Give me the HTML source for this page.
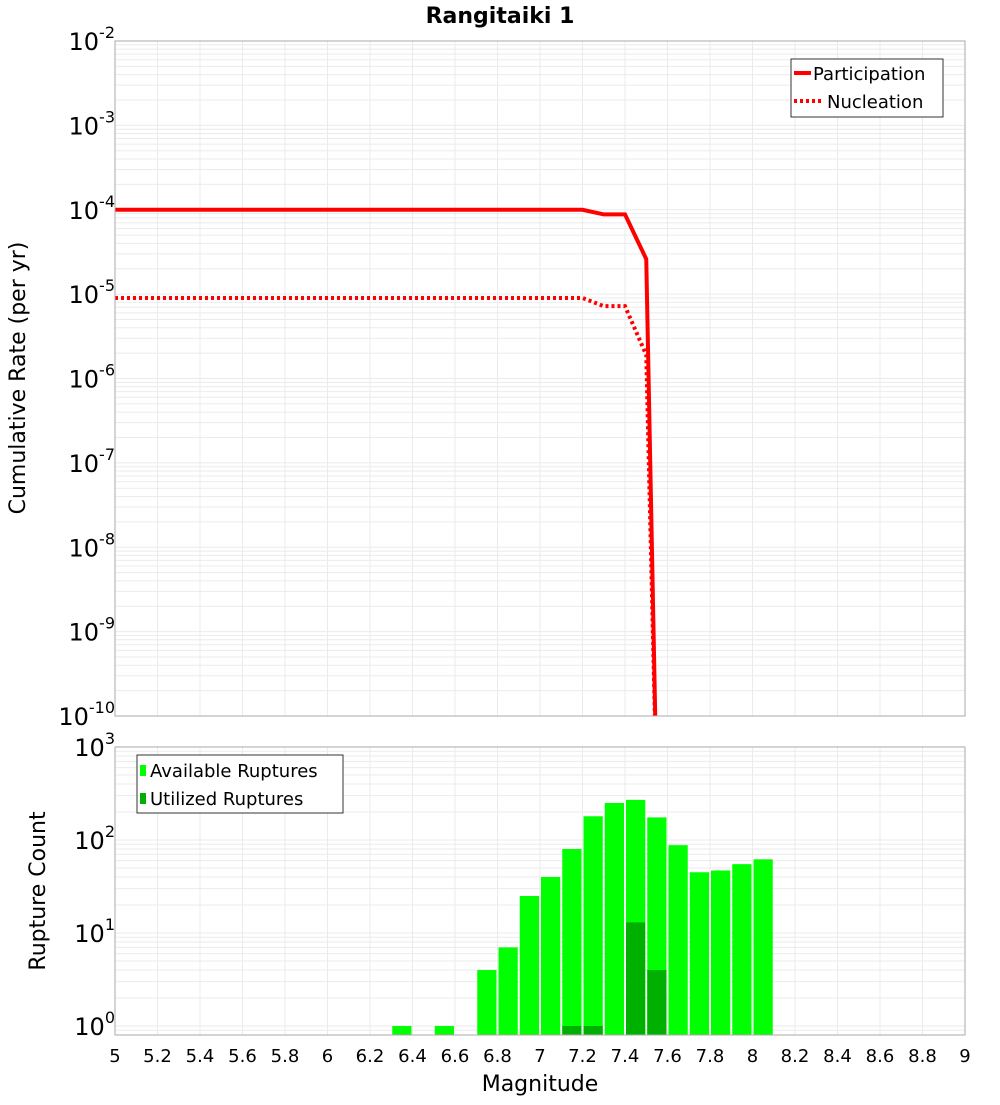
<!DOCTYPE html>
<html><head><meta charset="utf-8"><style>
body{margin:0;background:#fff;font-family:"Liberation Sans","DejaVu Sans",sans-serif}
svg text{font-family:"DejaVu Sans","Liberation Sans",sans-serif}
</style></head><body>
<svg id="c" width="1000" height="1100" xmlns="http://www.w3.org/2000/svg"></svg>
<script>
const partMag=[5,7.2,7.3,7.4,7.5,7.55];
const partRate=[1e-4,1e-4,8.8e-5,8.8e-5,2.6e-5,1e-11];
const nuclMag=[5,7.2,7.3,7.4,7.5,7.55];
const nuclRate=[9e-6,9e-6,7.2e-6,7.2e-6,1.9e-6,1e-11];
const binMag=[6.3,6.5,6.7,6.8,6.9,7.0,7.1,7.2,7.3,7.4,7.5,7.6,7.7,7.8,7.9,8.0];
const availCount=[1,1,4,7,25,40,80,180,250,270,175,88,45,47,55,62];
const utilMag=[7.1,7.2,7.4,7.5];
const utilCount=[1,1,13,4];
const xTicks=[5,5.2,5.4,5.6,5.8,6,6.2,6.4,6.6,6.8,7,7.2,7.4,7.6,7.8,8,8.2,8.4,8.6,8.8,9];

const S="http://www.w3.org/2000/svg",svg=document.getElementById('c');
function el(t,a,p){const e=document.createElementNS(S,t);for(const k in a)e.setAttribute(k,a[k]);(p||svg).appendChild(e);return e;}
const X0=115,X1=965;
const x=m=>X0+(m-5)/4*(X1-X0);
const T0=41,T1=716; const yT=v=>T0+(-2-Math.log10(v))*(T1-T0)/8;
const B0=747,B1=1035; const yB=v=>1026-Math.log10(v)*93;

function grid(top,bot,yf,dmin,dmax){
  for(let d=dmin;d<dmax;d++)for(let k=1;k<10;k++){const v=k*Math.pow(10,d);const y=yf(v);if(y<top||y>bot)continue;
    const l=el('line',{x1:X0,x2:X1,y1:y,y2:y,stroke:'#ebebeb','stroke-width':1});
    }
  xTicks.forEach(t=>{const l=el('line',{x1:x(t),x2:x(t),y1:top,y2:bot,stroke:'#ebebeb'});
    });
}
grid(T0,T1,yT,-11,-1);
grid(B0,B1,yB,-1,3);

// bars
binMag.forEach((m,i)=>{const r=el('rect',{x:x(m)+1,y:yB(availCount[i]),width:x(m+0.1)-x(m)-2,height:B1-yB(availCount[i]),fill:'#00ff00'});
  });
utilMag.forEach((m,i)=>{const r=el('rect',{x:x(m)+1,y:yB(utilCount[i]),width:x(m+0.1)-x(m)-2,height:B1-yB(utilCount[i]),fill:'#00b000'});
  });

// lines
const cp=el('clipPath',{id:'cp'});el('rect',{x:X0,y:T0,width:X1-X0,height:T1-T0},cp);
function line(ms,vs,dash,name){const p=el('polyline',{points:ms.map((m,i)=>x(m)+','+yT(vs[i])).join(' '),fill:'none',stroke:'#ff0000','stroke-width':4,'clip-path':'url(#cp)'});
  if(dash)p.setAttribute('stroke-dasharray',dash);
  }
line(nuclMag,nuclRate,'3,3','nucleation-line');
line(partMag,partRate,null,'participation-line');

// frames
[[T0,T1,'top-plot-frame'],[B0,B1,'bottom-plot-frame']].forEach(f=>{const r=el('rect',{x:X0,y:f[0],width:X1-X0,height:f[1]-f[0],fill:'none',stroke:'#aaa'});
  });

function txt(s,a,name){const t=el('text',a);t.textContent=s;return t;}
function pow(base,exp,xr,y,name){const t=el('text',{x:xr,y:y,'font-size':24,'text-anchor':'end',fill:'#000'});
  
  const a=el('tspan',{},t);a.textContent=base;const b=el('tspan',{dy:-12,'font-size':16},t);b.textContent=exp;}
for(let e=-2;e>=-10;e--)pow('10',String(e),115,yT(Math.pow(10,e))+9,'y-tick-label');
for(let e=3;e>=0;e--)pow('10',String(e),115,yB(Math.pow(10,e))+9,'y-tick-label-bottom');
xTicks.forEach(t=>txt(String(t),{x:x(t),y:1062,'font-size':18,'text-anchor':'middle'},'x-tick-label'));
txt('Magnitude',{x:540,y:1091,'font-size':22,'text-anchor':'middle'},'x-axis-title');
txt('Rangitaiki 1',{x:500,y:23,'font-size':22,'font-weight':'bold','text-anchor':'middle'},'chart-title');
txt('Cumulative Rate (per yr)',{x:0,y:0,'font-size':22,'text-anchor':'middle',transform:'translate(25,378) rotate(-90)'},'y-axis-title');
txt('Rupture Count',{x:0,y:0,'font-size':22,'text-anchor':'middle',transform:'translate(45,891) rotate(-90)'},'y-axis-title-bottom');

// legends
const lg=el('g',{});
el('rect',{x:791,y:59,width:152,height:58,fill:'#fff',stroke:'#333'},lg);
el('line',{x1:794,x2:811,y1:73,y2:73,stroke:'#f00','stroke-width':4},lg);
el('line',{x1:794,x2:821,y1:101,y2:101,stroke:'#f00','stroke-width':4,'stroke-dasharray':'3,3'},lg);
txt('Participation',{x:813,y:80,'font-size':18},'legend-entry');
txt('Nucleation',{x:827,y:108,'font-size':18},'legend-entry');
const lb=el('g',{});
el('rect',{x:137,y:755,width:206,height:58,fill:'#fff',stroke:'#333'},lb);
el('rect',{x:140,y:765,width:6,height:11,fill:'#00ff00'},lb);
el('rect',{x:140,y:793,width:6,height:11,fill:'#00b000'},lb);
txt('Available Ruptures',{x:150,y:777,'font-size':18},'legend-entry');
txt('Utilized Ruptures',{x:150,y:805,'font-size':18},'legend-entry');
</script>
</body></html>
